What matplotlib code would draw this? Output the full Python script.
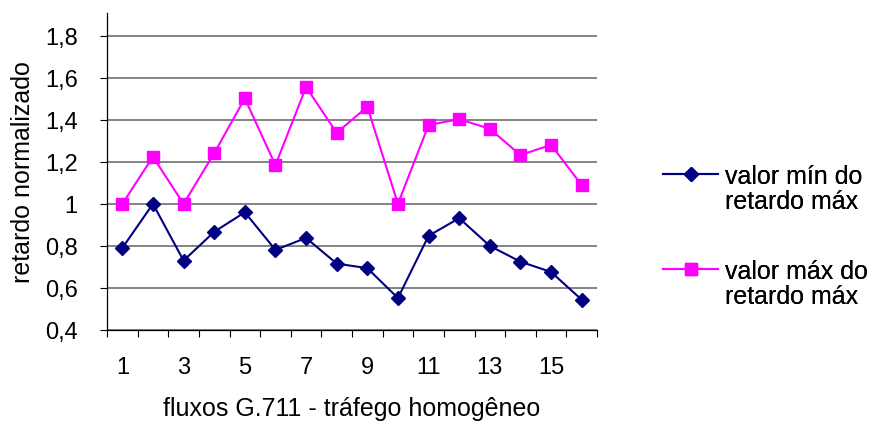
#!/usr/bin/env python3
"""
Retardo normalizado por fluxo G.711 (trafego homogeneo).
Min / max of the max delay, redrawn from the Excel chart.
"""

import matplotlib
matplotlib.use('Agg')
import matplotlib.pyplot as plt
from matplotlib.lines import Line2D
import numpy as np

# Data
fluxos = list(range(1, 17))
valor_min = [0.79, 1.00, 0.73, 0.867, 0.96, 0.781, 0.838, 0.716,
             0.694, 0.552, 0.848, 0.932, 0.80, 0.725, 0.676, 0.544]
valor_max = [1.00, 1.224, 1.00, 1.241, 1.502, 1.184, 1.556, 1.338,
             1.462, 1.00, 1.375, 1.403, 1.357, 1.232, 1.281, 1.089]

x_tick_pos = [1, 3, 5, 7, 9, 11, 13, 15]
y_ticks = [0.4, 0.6, 0.8, 1.0, 1.2, 1.4, 1.6, 1.8]
y_tick_labels = ['0,4', '0,6', '0,8', '1', '1,2', '1,4', '1,6', '1,8']

NAVY = '#000080'
MAGENTA = '#FF00FF'

plt.rcParams['font.family'] = ['Liberation Sans', 'DejaVu Sans']


def main():
    fig = plt.figure(figsize=(8.72, 4.27), dpi=100)
    # axes box placed to match the original plot area (pixels 107..597, 14..331)
    ax = fig.add_axes([107 / 872, 96 / 427, 490 / 872, 317 / 427])

    line_min, = ax.plot(fluxos, valor_min, color=NAVY, linewidth=1.5,
                        marker='D', markersize=7.5, zorder=3)
    line_max, = ax.plot(fluxos, valor_max, color=MAGENTA, linewidth=1.5,
                        marker='s', markersize=8.7, zorder=3)

    ax.set_xlim(0.5, 16.5)
    ax.set_ylim(0.4, 1.908)

    # horizontal grid
    for y in y_ticks:
        ax.axhline(y, color='#6e6e6e', linewidth=1.2, zorder=1)

    ax.set_yticks(y_ticks)
    ax.set_yticklabels(y_tick_labels)
    ax.tick_params(axis='y', direction='out', length=5, width=0.8,
                   pad=16, labelsize=17)

    # category labels without ticks, tick marks between categories
    ax.set_xticks(x_tick_pos)
    ax.set_xticklabels([str(v) for v in x_tick_pos])
    ax.set_xticks(np.arange(0.5, 17, 1.0), minor=True)
    ax.tick_params(axis='x', which='major', length=0, pad=19, labelsize=17)
    ax.tick_params(axis='x', which='minor', direction='out', length=5, width=0.8)

    for side in ['top', 'right']:
        ax.spines[side].set_visible(False)
    for side in ['left', 'bottom']:
        ax.spines[side].set_linewidth(0.9)

    ax.set_xlabel('fluxos G.711 - tráfego homogêneo', fontsize=18)
    ax.xaxis.set_label_coords((352 - 107) / 490, (331 - 409) / 317)
    ax.xaxis.label.set_va('center')
    ax.set_ylabel('retardo normalizado', fontsize=18)
    ax.yaxis.set_label_coords((23 - 107) / 490, (331 - 172) / 317)
    ax.yaxis.label.set_va('center')

    # legend: handle aligned with first line of each two-line label
    blank = Line2D([], [], linestyle='none')
    for handle, first, y in [(line_min, 'valor mín do', 0.557),
                             (line_max, 'valor máx do', 0.334)]:
        leg = fig.legend([handle, blank], [first, 'retardo máx'],
                         loc='center left', bbox_to_anchor=(663 / 872, y),
                         frameon=False, fontsize=18, handlelength=2.2,
                         handletextpad=0.28, labelspacing=0.05,
                         borderpad=0, borderaxespad=0)
        fig.add_artist(leg)

    fig.savefig('out.png', dpi=100)
    plt.close(fig)


if __name__ == '__main__':
    main()
